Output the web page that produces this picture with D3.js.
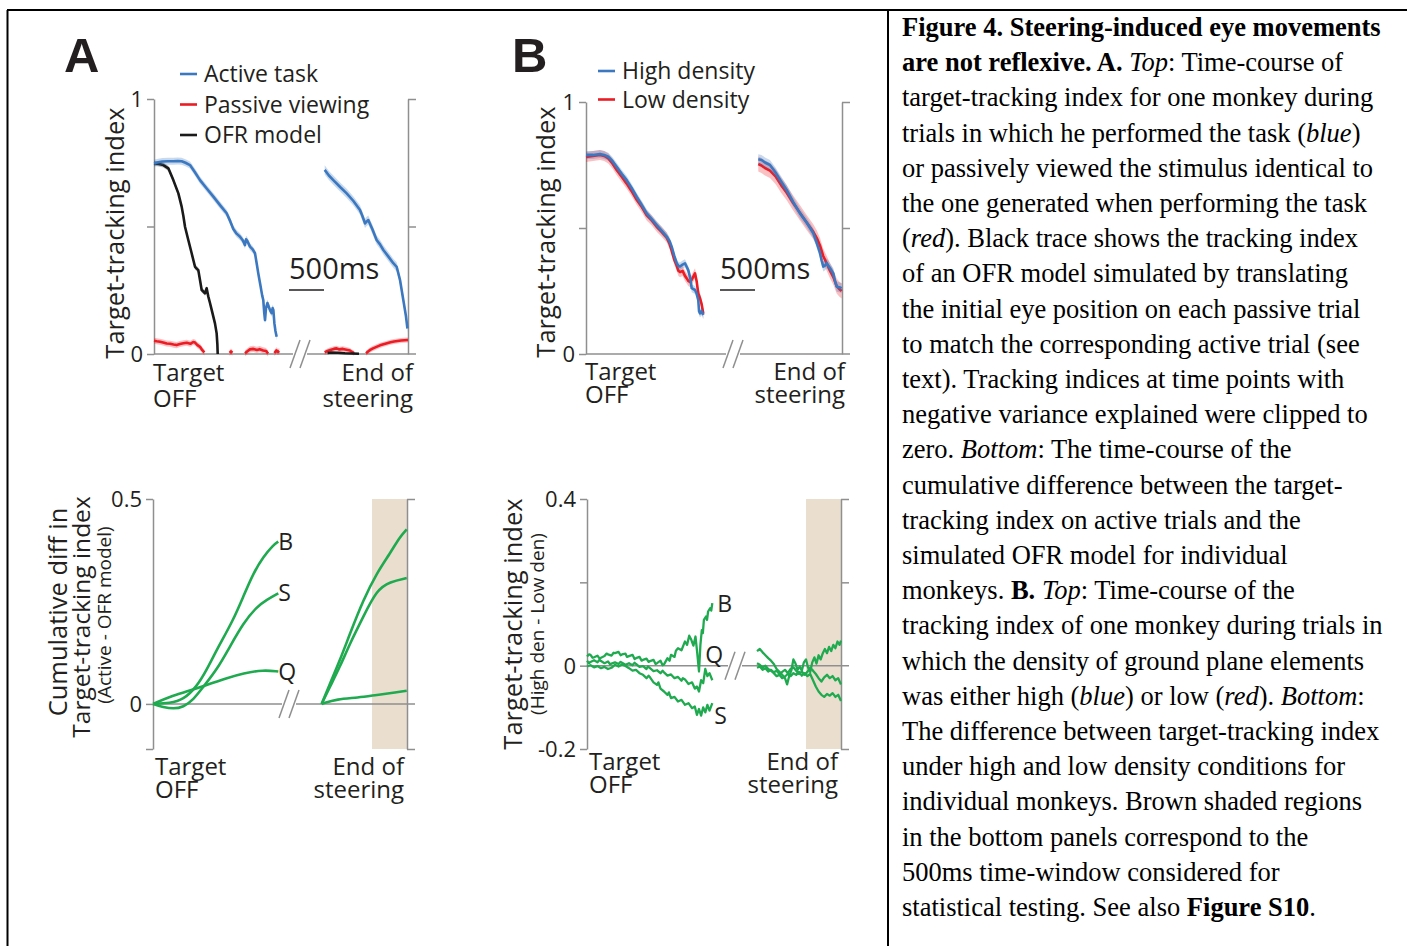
<!DOCTYPE html>
<html>
<head>
<meta charset="utf-8">
<title>Figure 4</title>
<script src="https://cdnjs.cloudflare.com/ajax/libs/d3/7.9.0/d3.min.js"></script>
<style>
 body { margin: 0; background: #fff; }
 svg { display: block; }
 .lab { font-family: "Open Sans", sans-serif; fill: #231f20; }
 .tick text { font-family: "Open Sans", sans-serif; font-size: 22px; fill: #231f20; }
 .tick line, .domain { stroke: #8f8f8f; stroke-width: 1.5; }
 .cap { font-family: "Liberation Serif", "Times New Roman", serif; font-size: 26.5px; fill: #000; }
</style>
</head>
<body>
<svg width="1407" height="946"></svg>
<script>
// ---- data: [ms, value]; ms from Target OFF (left) or to End of steering (right) ----
const activeLeft = [[0,.748],[60,.752],[120,.755],[200,.756],[276,.756],[340,.757],[395,.756],[450,.75],[514,.741],[580,.715],[657,.682],[750,.65],[848,.617],[940,.585],[1038,.552],[1090,.52],[1133,.49],[1180,.472],[1229,.46],[1270,.445],[1300,.427],[1315,.45],[1330,.445],[1371,.421],[1410,.41],[1443,.395],[1470,.35],[1490,.316],[1520,.27],[1545,.23],[1561,.212],[1575,.16],[1586,.133],[1600,.18],[1620,.2],[1633,.19],[1660,.17],[1681,.16],[1695,.18],[1705,.173],[1720,.12],[1735,.09],[1752,.068]];
const activeRight = [[-1190,.722],[-1130,.7],[-1067,.682],[-970,.655],[-876,.63],[-780,.6],[-686,.565],[-650,.54],[-614,.512],[-590,.52],[-567,.525],[-510,.49],[-448,.447],[-400,.43],[-352,.408],[-280,.382],[-210,.356],[-162,.342],[-114,.29],[-67,.212],[-30,.15],[-8,.1]];
const passiveLeft = [[0,.052],[40,.05],[86,.048],[130,.045],[181,.041],[230,.04],[280,.037],[324,.035],[370,.039],[420,.042],[467,.044],[520,.04],[560,.047],[586,.045],[620,.035],[657,.028],[690,.015],[720,.006],[740,null],[1080,.004],[1100,.01],[1120,.005],[1140,null],[1300,.003],[1330,.01],[1370,.018],[1420,.02],[1470,.016],[1510,.019],[1560,.014],[1600,.012],[1630,.002],[1650,null],[1720,.004],[1750,.014],[1770,.008],[1790,.012]];
const passiveRight = [[-1190,.006],[-1150,.012],[-1110,.016],[-1060,.02],[-1020,.022],[-980,.018],[-930,.02],[-880,.017],[-830,.014],[-800,.008],[-770,.003],[-750,null],[-600,.003],[-570,.01],[-540,.016],[-500,.022],[-450,.028],[-400,.034],[-350,.038],[-300,.042],[-250,.046],[-200,.049],[-150,.051],[-100,.053],[-50,.054],[0,.055]];
const ofrLeft = [[0,.748],[70,.745],[133,.741],[205,.728],[276,.682],[348,.63],[395,.578],[420,.54],[443,.499],[490,.447],[538,.395],[586,.342],[610,.335],[633,.329],[657,.29],[681,.251],[705,.245],[729,.238],[752,.258],[776,.225],[800,.2],[824,.173],[871,.12],[895,.081],[905,.04],[910,0]];
const ofrRight = [[-1150,.004],[-1100,.006],[-1000,.005],[-900,.003],[-800,.002],[-700,.001]];

const highLeft = [[0,.79],[100,.79],[200,.794],[260,.79],[319,.783],[380,.765],[438,.743],[510,.715],[581,.69],[650,.66],[724,.624],[800,.59],[867,.558],[940,.535],[1010,.512],[1080,.49],[1153,.466],[1190,.45],[1224,.426],[1260,.39],[1296,.36],[1320,.35],[1343,.347],[1380,.355],[1414,.36],[1440,.345],[1461,.333],[1490,.3],[1510,.261],[1557,.254],[1580,.24],[1604,.214],[1615,.17],[1629,.161],[1650,.17],[1676,.155]];
const lowLeft = [[0,.782],[100,.786],[200,.79],[260,.786],[319,.776],[380,.755],[438,.73],[510,.703],[581,.676],[650,.647],[724,.612],[800,.582],[867,.55],[940,.53],[1010,.505],[1080,.485],[1153,.462],[1190,.44],[1224,.41],[1260,.375],[1296,.35],[1320,.33],[1343,.325],[1380,.33],[1414,.31],[1440,.3],[1461,.29],[1490,.285],[1520,.3],[1557,.32],[1580,.29],[1604,.24],[1630,.22],[1650,.2],[1676,.16]];
const highRight = [[-1196,.773],[-1150,.77],[-1100,.76],[-1029,.75],[-950,.72],[-870,.685],[-790,.651],[-700,.605],[-600,.558],[-500,.52],[-410,.479],[-360,.44],[-314,.4],[-290,.37],[-267,.347],[-240,.352],[-219,.36],[-170,.34],[-124,.32],[-100,.29],[-76,.267],[-40,.265],[-5,.261]];
const lowRight = [[-1196,.754],[-1150,.748],[-1100,.738],[-1029,.728],[-950,.705],[-870,.67],[-790,.64],[-700,.6],[-600,.56],[-500,.52],[-410,.485],[-360,.46],[-314,.43],[-270,.39],[-219,.36],[-170,.33],[-124,.305],[-76,.27],[-40,.258],[-5,.25]];

// cumulative diff (active - OFR) per monkey
const cumB = [[0,0],[243,.002],[433,.01],[624,.042],[767,.083],[910,.132],[1148,.205],[1290,.262],[1433,.319],[1576,.359],[1719,.388],[1790,.396]];
const cumS = [[0,0],[148,-.008],[290,-.012],[433,-.008],[576,.01],[719,.042],[910,.083],[1100,.14],[1290,.197],[1481,.237],[1624,.254],[1790,.27]];
const cumQ = [[0,0],[243,.018],[481,.03],[767,.046],[1052,.063],[1290,.075],[1576,.083],[1790,.079]];
const cumRight1 = [[-1219,0],[-1100,.05],[-957,.107],[-814,.172],[-624,.254],[-433,.319],[-243,.367],[-100,.408],[-4,.426]];
const cumRight2 = [[-1219,0],[-1100,.042],[-957,.091],[-814,.148],[-624,.213],[-433,.278],[-243,.298],[-4,.307]];
const cumRight3 = [[-1219,0],[-1000,.012],[-700,.015],[-433,.022],[-150,.028],[-4,.032]];

// density difference (high - low) per monkey
const denB = [[0,.022],[30,.027],[50,.026],[80,.019],[100,.02],[150,.024],[180,.017],[200,.019],[250,.023],[280,.029],[300,.027],[350,.024],[380,.031],[400,.03],[450,.033],[480,.025],[500,.027],[550,.029],[570,.021],[600,.023],[650,.026],[680,.016],[700,.018],[750,.021],[780,.012],[800,.014],[850,.017],[880,.009],[900,.011],[950,.014],[980,.004],[1000,.006],[1050,.012],[1080,.001],[1100,.003],[1150,.018],[1180,.012],[1200,.026],[1250,.021],[1270,.036],[1300,.042],[1350,.037],[1380,.05],[1400,.058],[1430,.05],[1460,.072],[1490,.062],[1520,.048],[1550,.07],[1575,.03],[1600,-.014],[1620,.05],[1640,.085],[1655,.078],[1670,.11],[1700,.118],[1715,.11],[1730,.13],[1760,.138],[1775,.132],[1790,.15]];
const denQ = [[0,.012],[30,.006],[50,.009],[100,.013],[150,.008],[180,.014],[200,.011],[250,.006],[300,.01],[330,.003],[350,.005],[400,.008],[450,.004],[480,.009],[500,.007],[550,.002],[600,.006],[650,.001],[680,.007],[700,.004],[750,-.003],[800,-.001],[850,-.008],[870,-.002],[900,-.006],[950,-.013],[1000,-.011],[1050,-.018],[1080,-.012],[1100,-.016],[1150,-.024],[1200,-.021],[1250,-.03],[1300,-.027],[1350,-.036],[1370,-.03],[1400,-.033],[1450,-.044],[1500,-.04],[1540,-.055],[1570,-.05],[1600,-.062],[1630,-.035],[1660,-.042],[1690,-.008],[1720,-.025],[1750,-.018],[1790,-.035]];
const denS = [[0,-.002],[50,.001],[100,-.004],[150,-.001],[200,-.006],[250,-.003],[300,-.008],[350,-.005],[400,.002],[450,-.002],[500,.003],[550,-.001],[600,-.006],[650,-.012],[700,-.01],[750,-.018],[800,-.022],[850,-.03],[880,-.024],[900,-.028],[950,-.04],[1000,-.046],[1020,-.04],[1050,-.055],[1100,-.062],[1150,-.07],[1170,-.064],[1200,-.078],[1250,-.075],[1300,-.086],[1350,-.082],[1400,-.094],[1450,-.09],[1500,-.102],[1540,-.098],[1570,-.118],[1600,-.104],[1630,-.12],[1660,-.1],[1690,-.112],[1720,-.094],[1750,-.108],[1790,-.09]];
const denRight1 = [[-1200,.035],[-1160,.04],[-1120,.032],[-1080,.025],[-1040,.018],[-1000,.012],[-960,.004],[-920,-.008],[-880,-.015],[-840,-.022],[-800,-.03],[-770,-.045],[-740,-.025],[-710,-.012],[-680,.015],[-650,.005],[-620,-.01],[-590,-.002],[-560,-.012],[-530,.008],[-500,.015],[-470,-.005],[-440,-.015],[-410,.008],[-380,.02],[-350,.005],[-320,.025],[-290,.015],[-260,.03],[-230,.04],[-200,.03],[-170,.045],[-140,.035],[-110,.05],[-80,.042],[-50,.058],[-20,.05],[0,.06]];
const denRight2 = [[-1200,-.005],[-1160,-.002],[-1120,-.01],[-1080,-.006],[-1040,-.014],[-1000,-.01],[-960,-.016],[-920,-.012],[-880,-.02],[-840,-.015],[-800,-.01],[-760,-.018],[-720,-.008],[-680,-.004],[-640,-.012],[-600,-.02],[-560,-.014],[-520,-.022],[-480,-.015],[-440,-.005],[-400,-.012],[-360,-.02],[-320,-.03],[-280,-.038],[-240,-.028],[-200,-.022],[-160,-.03],[-120,-.025],[-80,-.035],[-40,-.03],[0,-.045]];
const denRight3 = [[-1200,.006],[-1160,.002],[-1120,-.004],[-1080,0],[-1040,-.008],[-1000,-.012],[-960,-.018],[-920,-.025],[-880,-.022],[-840,-.03],[-800,-.026],[-760,-.02],[-720,-.025],[-680,-.018],[-640,-.022],[-600,-.015],[-560,-.024],[-520,-.018],[-480,-.025],[-440,-.02],[-400,-.035],[-360,-.05],[-320,-.062],[-280,-.07],[-240,-.075],[-200,-.068],[-160,-.072],[-120,-.066],[-80,-.075],[-40,-.07],[0,-.085]];

const legendA = ["Active task", "Passive viewing", "OFR model"];
const legendB = ["High density", "Low density"];
const monkeys = ["B", "S", "Q"];
const statWindow = 500; // ms, shaded

const caption = [
 [["Figure 4. Steering-induced eye movements", "b"]],
 [["are not reflexive. A. ", "b"], ["Top", "i"], [": Time-course of", ""]],
 [["target-tracking index for one monkey during", ""]],
 [["trials in which he performed the task (", ""], ["blue", "i"], [")", ""]],
 [["or passively viewed the stimulus identical to", ""]],
 [["the one generated when performing the task", ""]],
 [["(", ""], ["red", "i"], ["). Black trace shows the tracking index", ""]],
 [["of an OFR model simulated by translating", ""]],
 [["the initial eye position on each passive trial", ""]],
 [["to match the corresponding active trial (see", ""]],
 [["text). Tracking indices at time points with", ""]],
 [["negative variance explained were clipped to", ""]],
 [["zero. ", ""], ["Bottom", "i"], [": The time-course of the", ""]],
 [["cumulative difference between the target-", ""]],
 [["tracking index on active trials and the", ""]],
 [["simulated OFR model for individual", ""]],
 [["monkeys. ", ""], ["B.", "b"], [" ", ""], ["Top", "i"], [": Time-course of the", ""]],
 [["tracking index of one monkey during trials in", ""]],
 [["which the density of ground plane elements", ""]],
 [["was either high (", ""], ["blue", "i"], [") or low (", ""], ["red", "i"], ["). ", ""], ["Bottom", "i"], [":", ""]],
 [["The difference between target-tracking index", ""]],
 [["under high and low density conditions for", ""]],
 [["individual monkeys. Brown shaded regions", ""]],
 [["in the bottom panels correspond to the", ""]],
 [["500ms time-window considered for", ""]],
 [["statistical testing. See also ", ""], ["Figure S10", "b"], [".", ""]]
];

const BLUE = "#3b78c0", RED = "#ec1c24", BLACK = "#1a1a1a", GREEN = "#1faa4f", SHADE = "#eadfcf";
const msPx = 35; // pixels per 500 ms

const svg = d3.select("svg");

// frame
svg.append("line").attr("x1", 7).attr("x2", 1407).attr("y1", 10).attr("y2", 10).attr("stroke", "#000").attr("stroke-width", 2);
svg.append("line").attr("x1", 7.5).attr("x2", 7.5).attr("y1", 10).attr("y2", 946).attr("stroke", "#000").attr("stroke-width", 2);
svg.append("line").attr("x1", 888).attr("x2", 888).attr("y1", 10).attr("y2", 946).attr("stroke", "#000").attr("stroke-width", 2);

function panel(p) {
 const g = svg.append("g");
 const y = d3.scaleLinear().domain(p.domain).range([p.yBot, p.yTop]);
 const xl = d3.scaleLinear().domain([0, 500]).range([p.x0, p.x0 + msPx]);
 const xr = d3.scaleLinear().domain([-500, 0]).range([p.x1 - msPx, p.x1]);

 if(p.shade) {
  g.append("rect")
   .attr("x", xr(-statWindow)).attr("width", xr(0) - xr(-statWindow))
   .attr("y", y(p.domain[1])).attr("height", y(p.domain[0]) - y(p.domain[1]))
   .attr("fill", SHADE);
 }

 // left axis
 g.append("g").attr("transform", `translate(${p.x0},0)`)
  .call(d3.axisLeft(y).tickValues(p.leftTicks).tickSize(7).tickSizeOuter(0).tickPadding(4)
   .tickFormat(d => p.tickLabels[p.leftTicks.indexOf(d)]))
  .call(a => a.selectAll(".tick text").attr("dy", "0.36em"));
 // right axis
 g.append("g").attr("transform", `translate(${p.x1},0)`)
  .call(d3.axisRight(y).tickValues(p.rightTicks).tickSize(8).tickSizeOuter(0).tickFormat(""));

 // baseline with break
 const by = y(0);
 g.append("line").attr("class", "domain").attr("x1", p.x0).attr("x2", p.bx - 7).attr("y1", by).attr("y2", by);
 g.append("line").attr("class", "domain").attr("x1", p.bx + 7).attr("x2", p.x1 + 8).attr("y1", by).attr("y2", by);
 [-5, 5].forEach(o => {
  g.append("line").attr("class", "domain")
   .attr("x1", p.bx + o - 5).attr("y1", by + 14)
   .attr("x2", p.bx + o + 5).attr("y2", by - 14);
 });

 function drawSeries(data, side, color, sem, curve, width) {
  const xs = side === "L" ? xl : xr;
  const def = d => d[1] !== null;
  if(sem) {
   g.append("path").datum(data)
    .attr("fill", color).attr("opacity", 0.28)
    .attr("d", d3.area().defined(def).x(d => xs(d[0]))
     .y0(d => y(d[1] - sem)).y1(d => y(d[1] + sem)).curve(curve || d3.curveLinear));
  }
  g.append("path").datum(data)
   .attr("fill", "none").attr("stroke", color).attr("stroke-width", width || 2.6)
   .attr("stroke-linejoin", "round")
   .attr("d", d3.line().defined(def).x(d => xs(d[0])).y(d => y(d[1])).curve(curve || d3.curveLinear));
 }

 // labels under x axis
 const lab = (x, yy, t, anchor, size) => g.append("text").attr("class", "lab")
  .attr("x", x).attr("y", yy).attr("text-anchor", anchor || "start")
  .attr("font-size", size || 24).text(t);
 lab(p.x0 - 1 + (p.tgtDx || 0), p.tgtY, "Target");
 lab(p.x0 - 1 + (p.tgtDx || 0), p.tgtY + p.lead, "OFF");
 lab(p.x1 + p.endDx, p.tgtY, "End of", "end");
 lab(p.x1 + p.endDx, p.tgtY + p.lead, "steering", "end");

 // y label lines
 p.ylab.forEach(l => {
  g.append("text").attr("class", "lab")
   .attr("transform", `translate(${l.x},${l.y}) rotate(-90)`)
   .attr("text-anchor", "middle").attr("font-size", l.size).text(l.t);
 });

 return {g, y, xl, xr, drawSeries, lab};
}

// ---------- A top ----------
const pA = panel({x0: 154, x1: 408, yTop: 99, yBot: 354, domain: [0, 1], bx: 300,
 leftTicks: [1, 0.5, 0], tickLabels: ["1", "", "0"], rightTicks: [1, 0.5],
 tgtY: 381, lead: 26, endDx: 5,
 ylab: [{x: 124, y: 233, size: 25.5, t: "Target-tracking index"}]});
pA.drawSeries(passiveLeft, "L", RED, 0.012);
pA.drawSeries(passiveRight, "R", RED, 0.01);
pA.drawSeries(ofrRight, "R", BLACK, 0);
pA.drawSeries(ofrLeft, "L", BLACK, 0.01);
pA.drawSeries(activeLeft, "L", BLUE, 0.014);
pA.drawSeries(activeRight, "R", BLUE, 0.018);

// ---------- B top ----------
const pB = panel({x0: 586, x1: 842, yTop: 102, yBot: 354, domain: [0, 1], bx: 733,
 leftTicks: [1, 0.5, 0], tickLabels: ["1", "", "0"], rightTicks: [1, 0.5],
 tgtY: 380, lead: 23, endDx: 3,
 ylab: [{x: 555, y: 232, size: 25.5, t: "Target-tracking index"}]});
pB.drawSeries(lowLeft, "L", RED, 0.02);
pB.drawSeries(lowRight, "R", RED, 0.03);
pB.drawSeries(highLeft, "L", BLUE, 0.016);
pB.drawSeries(highRight, "R", BLUE, 0.02);

// ---------- A bottom ----------
const pC = panel({x0: 153, x1: 407, yTop: 499, yBot: 749, domain: [-0.11, 0.5], bx: 289, shade: true,
 leftTicks: [0.5, 0, -0.11], tickLabels: ["0.5", "0", ""], rightTicks: [0.5, -0.11],
 tgtY: 775, lead: 23, endDx: -3, tgtDx: 3,
 ylab: [{x: 67, y: 612, size: 25.5, t: "Cumulative diff in"},
        {x: 90, y: 617, size: 24.5, t: "Target-tracking index"},
        {x: 111, y: 615, size: 19, t: "(Active - OFR model)"}]});
[cumB, cumS, cumQ].forEach(s => pC.drawSeries(s, "L", GREEN, 0, d3.curveBasis));
[cumRight1, cumRight2, cumRight3].forEach(s => pC.drawSeries(s, "R", GREEN, 0, d3.curveBasis));
[cumB, cumS, cumQ].forEach((s, i) => {
 const last = s[s.length - 1];
 pC.lab(pC.xl(last[0]) + 0, pC.y(last[1]) + 8, monkeys[i], "start", 23);
});

// ---------- B bottom ----------
const pD = panel({x0: 587, x1: 841, yTop: 499, yBot: 749, domain: [-0.2, 0.4], bx: 735, shade: true,
 leftTicks: [0.4, 0.2, 0, -0.2], tickLabels: ["0.4", "", "0", "-0.2"], rightTicks: [0.4, 0.2, -0.2],
 tgtY: 770, lead: 23, endDx: -3, tgtDx: 3,
 ylab: [{x: 522, y: 624, size: 25.5, t: "Target-tracking index"},
        {x: 544, y: 624, size: 19, t: "(High den - Low den)"}]});
[denB, denQ, denS].forEach(s => pD.drawSeries(s, "L", GREEN, 0, null, 2.3));
[denRight1, denRight2, denRight3].forEach(s => pD.drawSeries(s, "R", GREEN, 0, null, 2.3));
pD.lab(pD.xl(1790) + 5, pD.y(0.15) + 9, "B", "start", 23);
pD.lab(pD.xl(1790) - 7, pD.y(0.0) - 3, "Q", "start", 23);
pD.lab(pD.xl(1790) + 2, pD.y(-0.09) + 21, "S", "start", 23);

// panel letters, legends, scale bars
[["A", 64], ["B", 512]].forEach(([t, x]) => {
 svg.append("text").attr("x", x).attr("y", 72)
  .attr("font-family", "'Liberation Sans', Arial, sans-serif").attr("font-weight", "bold")
  .attr("font-size", 49).attr("fill", "#231f20").text(t);
});

const legend = (x, y0, step, names, colors) => {
 names.forEach((n, i) => {
  const yy = y0 + i * step;
  svg.append("line").attr("x1", x).attr("x2", x + 17).attr("y1", yy).attr("y2", yy)
   .attr("stroke", colors[i]).attr("stroke-width", 2.6);
  svg.append("text").attr("class", "lab").attr("x", x + 24).attr("y", yy + 8)
   .attr("font-size", 23).text(n);
 });
};
legend(180, 74, 30.5, legendA, [BLUE, RED, BLACK]);
legend(598, 71, 28.5, legendB, [BLUE, RED]);

[[289, pA], [720, pB]].forEach(([x, p]) => {
 const w = p.xl(500) - p.xl(0);
 svg.append("line").attr("x1", x).attr("x2", x + w).attr("y1", 290).attr("y2", 290)
  .attr("stroke", "#231f20").attr("stroke-width", 1.5);
 svg.append("text").attr("class", "lab").attr("x", x).attr("y", 279)
  .attr("font-size", 29).text("500ms");
});

// caption
const cap = svg.append("text").attr("class", "cap");
caption.forEach((line, i) => {
 const t = cap.append("tspan").attr("x", 902).attr("y", 36 + i * 35.2);
 line.forEach(([s, st], j) => {
  const sp = j === 0 ? t : cap.append("tspan");
  sp.text(s);
  if(st === "b") sp.attr("font-weight", "bold");
  if(st === "i") sp.attr("font-style", "italic");
 });
});
</script>
</body>
</html>
